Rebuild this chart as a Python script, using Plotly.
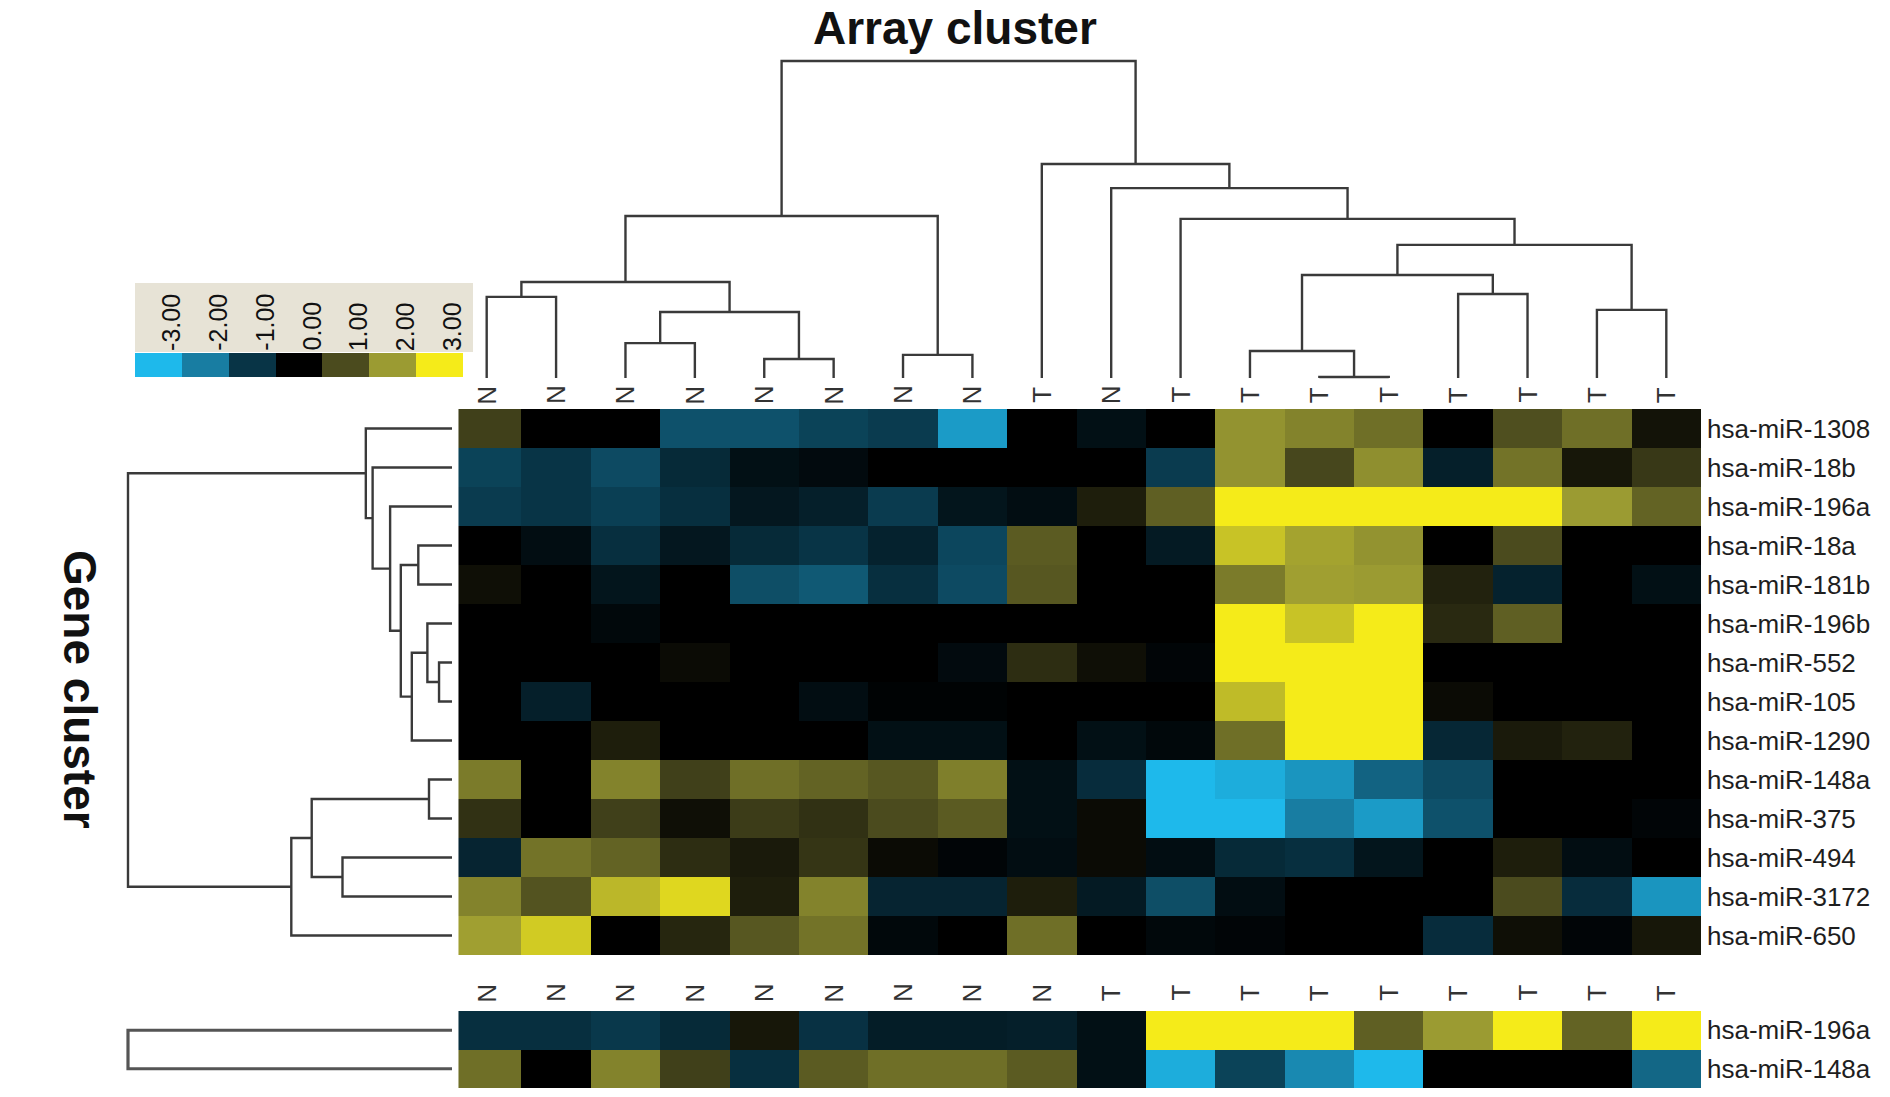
import plotly.graph_objects as go

W, H = 1890, 1097

# ---------------- data ----------------
genes = ["hsa-miR-1308", "hsa-miR-18b", "hsa-miR-196a", "hsa-miR-18a", "hsa-miR-181b",
         "hsa-miR-196b", "hsa-miR-552", "hsa-miR-105", "hsa-miR-1290", "hsa-miR-148a",
         "hsa-miR-375", "hsa-miR-494", "hsa-miR-3172", "hsa-miR-650"]
samples_top = ["N", "N", "N", "N", "N", "N", "N", "N", "T", "N",
               "T", "T", "T", "T", "T", "T", "T", "T"]

row_1308 = [0.85, 0, 0, -1.4, -1.4, -1.2, -1.1, -2.5, 0, -0.3, 0, 1.9, 1.7, 1.45, 0, 1.05, 1.45, 0.25]
row_18b = [-1.2, -1.0, -1.3, -0.8, -0.3, -0.2, 0, 0, 0, 0, -1.1, 1.9, 0.95, 1.85, -0.6, 1.5, 0.3, 0.75]
row_196a = [-1.1, -1.0, -1.15, -0.9, -0.45, -0.6, -1.1, -0.4, -0.25, 0.4, 1.25, 3, 3, 3, 3, 3, 2.0, 1.3]
row_18a = [0, -0.25, -0.9, -0.45, -0.8, -1.0, -0.65, -1.25, 1.2, 0, -0.5, 2.5, 2.1, 1.9, 0, 1.0, 0, 0]
row_181b = [0.2, 0, -0.4, 0, -1.35, -1.5, -0.9, -1.3, 1.15, 0, 0, 1.6, 2.05, 2.0, 0.45, -0.65, 0, -0.3]
row_196b = [0, 0, -0.15, 0, 0, 0, 0, 0, 0, 0, 0, 3, 2.5, 3, 0.55, 1.25, 0, 0]
row_552 = [0, 0, 0, 0.15, 0, 0, 0, -0.2, 0.6, 0.2, -0.1, 3, 3, 3, 0, 0, 0, 0]
row_105 = [0, -0.6, 0, 0, 0, -0.25, -0.05, -0.05, 0, 0, 0, 2.4, 3, 3, 0.15, 0, 0, 0]
row_1290 = [0, 0, 0.4, 0, 0, 0, -0.3, -0.3, 0, -0.3, -0.15, 1.45, 3, 3, -0.75, 0.35, 0.45, 0]
row_148a = [1.6, 0, 1.7, 0.85, 1.45, 1.3, 1.15, 1.65, -0.3, -0.85, -3, -2.8, -2.4, -1.65, -1.3, 0, 0, 0]
row_375 = [0.65, 0, 0.85, 0.2, 0.8, 0.65, 1.0, 1.2, -0.3, 0.15, -3, -3, -2.0, -2.5, -1.4, 0, 0, -0.1]
row_494 = [-0.7, 1.5, 1.3, 0.6, 0.35, 0.7, 0.15, -0.1, -0.25, 0.15, -0.25, -0.8, -0.9, -0.4, 0, 0.4, -0.25, 0]
row_3172 = [1.7, 1.1, 2.35, 2.75, 0.4, 1.7, -0.7, -0.7, 0.4, -0.5, -1.35, -0.25, 0, 0, 0, 1.0, -0.85, -2.4]
row_650 = [2.05, 2.6, 0, 0.5, 1.15, 1.5, -0.15, 0, 1.45, 0, -0.15, -0.1, 0, 0, -0.85, 0.2, -0.1, 0.3]

main_z = [row_1308, row_18b, row_196a, row_18a, row_181b, row_196b, row_552, row_105,
          row_1290, row_148a, row_375, row_494, row_3172, row_650]

genes_bottom = ["hsa-miR-196a", "hsa-miR-148a"]
samples_bottom = ["N"] * 9 + ["T"] * 9
bottom_196a = [-0.9, -0.9, -1.05, -0.8, 0.3, -0.95, -0.55, -0.55, -0.6, -0.3, 3, 3, 3, 1.25, 2.0, 3, 1.3, 3]
bottom_148a = [1.45, 0, 1.7, 0.85, -0.9, 1.2, 1.45, 1.45, 1.2, -0.3, -2.8, -1.2, -2.2, -3, 0, 0, 0, -1.7]
bottom_z = [bottom_196a, bottom_148a]

legend_values = [-3, -2, -1, 0, 1, 2, 3]
legend_labels = ["-3.00", "-2.00", "-1.00", "0.00", "1.00", "2.00", "3.00"]

# dendrogram merges: (child_a, child_b, height); ids >= n_leaves refer to earlier merges
col_merges = [(0, 1, 0.256), (2, 3, 0.110), (4, 5, 0.060), (19, 20, 0.208), (18, 21, 0.303),
              (6, 7, 0.073), (22, 23, 0.511), (12, 13, 0.003), (11, 25, 0.085), (14, 15, 0.265),
              (26, 27, 0.325), (16, 17, 0.215), (28, 29, 0.420), (10, 30, 0.502), (9, 31, 0.599),
              (8, 32, 0.675), (24, 33, 1.0)]
row_merges = [(6, 7, 0.040), (5, 14, 0.076), (3, 4, 0.104), (15, 8, 0.124), (16, 17, 0.158),
              (2, 18, 0.191), (1, 19, 0.245), (0, 20, 0.266), (9, 10, 0.071), (11, 12, 0.338),
              (22, 23, 0.433), (24, 13, 0.496), (21, 25, 1.0)]
bottom_merges = [(0, 1, 1.0)]

colorscale = [[0.0, "rgb(30,185,235)"], [1 / 6, "rgb(24,125,162)"], [2 / 6, "rgb(8,52,70)"],
              [0.5, "rgb(0,0,0)"], [4 / 6, "rgb(75,75,30)"], [5 / 6, "rgb(155,155,50)"],
              [1.0, "rgb(245,235,25)"]]


# ---------------- helpers ----------------
def fx(px):
    return px / W


def fy(py):
    return 1 - py / H


def dendro_lines(n_leaves, merges):
    pos = {i: float(i) for i in range(n_leaves)}
    hgt = {i: 0.0 for i in range(n_leaves)}
    xs, hs = [], []
    for k, (a, b, h) in enumerate(merges):
        nid = n_leaves + k
        xs += [pos[a], pos[a], pos[b], pos[b], None]
        hs += [hgt[a], h, h, hgt[b], None]
        pos[nid] = (pos[a] + pos[b]) / 2
        hgt[nid] = h
    return xs, hs


LINE = dict(color="#3a3a3a", width=2.4)
PAD = 0.02

fig = go.Figure()

# main heatmap
fig.add_trace(go.Heatmap(z=main_z, x=list(range(18)), y=list(range(14)), colorscale=colorscale,
                         zmin=-3, zmax=3, showscale=False, xaxis="x", yaxis="y", hoverinfo="skip"))
# bottom heatmap
fig.add_trace(go.Heatmap(z=bottom_z, x=list(range(18)), y=[0, 1], colorscale=colorscale,
                         zmin=-3, zmax=3, showscale=False, xaxis="x4", yaxis="y4", hoverinfo="skip"))
# legend bar
fig.add_trace(go.Heatmap(z=[legend_values], x=list(range(7)), y=[0], colorscale=colorscale,
                         zmin=-3, zmax=3, showscale=False, xaxis="x6", yaxis="y6", hoverinfo="skip"))

# top dendrogram
cx, ch = dendro_lines(18, col_merges)
fig.add_trace(go.Scatter(x=cx, y=ch, mode="lines", line=LINE, xaxis="x2", yaxis="y2",
                         hoverinfo="skip", showlegend=False))
# left dendrogram
rx, rh = dendro_lines(14, row_merges)
fig.add_trace(go.Scatter(x=rh, y=rx, mode="lines", line=LINE, xaxis="x3", yaxis="y3",
                         hoverinfo="skip", showlegend=False))
# bottom dendrogram
bx, bh = dendro_lines(2, bottom_merges)
fig.add_trace(go.Scatter(x=bh, y=bx, mode="lines", line=dict(color="#555555", width=3.2),
                         xaxis="x5", yaxis="y5", hoverinfo="skip", showlegend=False))

# geometry (pixels)
HX0, HX1 = 452, 1701
HY0, HY1 = 409, 955
BY0, BY1 = 1011, 1088
DEN_TOP_LEAF, DEN_TOP_ROOT = 378, 61
DEN_LEFT_ROOT = 128


def padded(lo_px, hi_px):
    span = hi_px - lo_px
    return lo_px - PAD * span, hi_px + PAD * span


ax = dict(visible=False, showgrid=False, zeroline=False, fixedrange=True)
t0, t1 = padded(DEN_TOP_ROOT, DEN_TOP_LEAF)
l0, l1 = padded(DEN_LEFT_ROOT, HX0)

fig.update_layout(
    width=W, height=H, margin=dict(l=0, r=0, t=0, b=0),
    paper_bgcolor="white", plot_bgcolor="white", showlegend=False,
    xaxis=dict(ax, domain=[fx(HX0), fx(HX1)], range=[-0.5, 17.5], anchor="y"),
    yaxis=dict(ax, domain=[fy(HY1), fy(HY0)], range=[13.5, -0.5], anchor="x"),
    xaxis2=dict(ax, domain=[fx(HX0), fx(HX1)], range=[-0.5, 17.5], anchor="y2"),
    yaxis2=dict(ax, domain=[fy(t1), fy(t0)], range=[-PAD, 1 + PAD], anchor="x2"),
    xaxis3=dict(ax, domain=[fx(l0), fx(l1)], range=[1 + PAD, -PAD], anchor="y3"),
    yaxis3=dict(ax, domain=[fy(HY1), fy(HY0)], range=[13.5, -0.5], anchor="x3"),
    xaxis4=dict(ax, domain=[fx(HX0), fx(HX1)], range=[-0.5, 17.5], anchor="y4"),
    yaxis4=dict(ax, domain=[fy(BY1), fy(BY0)], range=[1.5, -0.5], anchor="x4"),
    xaxis5=dict(ax, domain=[fx(l0), fx(l1)], range=[1 + PAD, -PAD], anchor="y5"),
    yaxis5=dict(ax, domain=[fy(BY1), fy(BY0)], range=[1.5, -0.5], anchor="x5"),
    xaxis6=dict(ax, domain=[fx(135), fx(463)], range=[-0.5, 6.5], anchor="y6"),
    yaxis6=dict(ax, domain=[fy(377), fy(353)], range=[-0.5, 0.5], anchor="x6"),
)

# legend background box
fig.add_shape(type="rect", xref="paper", yref="paper", x0=fx(135), x1=fx(473), y0=fy(352), y1=fy(283),
              fillcolor="#E7E3D6", line=dict(width=0), layer="below")

annotations = []
LBL = dict(family="Liberation Sans, Arial, sans-serif", color="#1e1e1e")
# title
annotations.append(dict(text="<b>Array cluster</b>", xref="paper", yref="paper", x=fx(955), y=1.0,
                        showarrow=False, font=dict(LBL, size=46, color="#111111"),
                        xanchor="center", yanchor="top"))
annotations.append(dict(text="<b>Gene cluster</b>", xref="paper", yref="paper", x=fx(80), y=fy(689),
                        showarrow=False, font=dict(LBL, size=46, color="#111111"), textangle=90,
                        xanchor="center", yanchor="middle"))
# column labels
for i, s in enumerate(samples_top):
    annotations.append(dict(text=s, xref="x", yref="paper", x=i, y=fy(395), showarrow=False,
                            textangle=-90, font=dict(LBL, size=26, color="#333333"),
                            xanchor="center", yanchor="middle"))
for i, s in enumerate(samples_bottom):
    annotations.append(dict(text=s, xref="x4", yref="paper", x=i, y=fy(993), showarrow=False,
                            textangle=-90, font=dict(LBL, size=26, color="#333333"),
                            xanchor="center", yanchor="middle"))
# row labels
for j, g in enumerate(genes):
    annotations.append(dict(text=g, xref="paper", yref="y", x=fx(1705), y=j, showarrow=False,
                            font=dict(LBL, size=26), xanchor="left", yanchor="middle"))
for j, g in enumerate(genes_bottom):
    annotations.append(dict(text=g, xref="paper", yref="y4", x=fx(1705), y=j, showarrow=False,
                            font=dict(LBL, size=26), xanchor="left", yanchor="middle"))
# legend labels
for i, t in enumerate(legend_labels):
    annotations.append(dict(text=t, xref="x6", yref="paper", x=i, y=fy(353), showarrow=False,
                            textangle=-90, xshift=12, font=dict(LBL, size=25, color="#111111"),
                            xanchor="center", yanchor="bottom"))

fig.update_layout(annotations=annotations)

fig.write_html("out.html", post_script="document.body.style.margin='0px';",
               config={"displayModeBar": False})
